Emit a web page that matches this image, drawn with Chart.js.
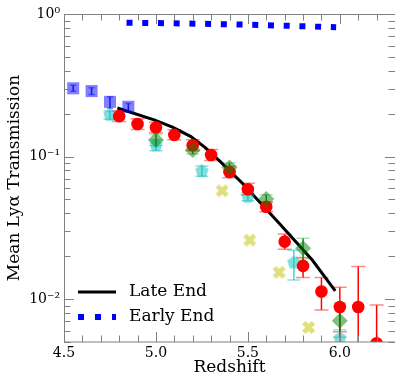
<!DOCTYPE html>
<html>
<head>
<meta charset="utf-8">
<script src="https://cdn.jsdelivr.net/npm/chart.js@4.4.1/dist/chart.umd.min.js"></script>
<style>
  html, body { margin: 0; padding: 0; background: #fff; overflow: hidden; }
  canvas { display: block; }
</style>
</head>
<body>
<canvas id="chart" width="395" height="376"></canvas>
<script>
// values (redshift, mean transmission)
const lateZ = [4.79, 4.99, 5.09, 5.19, 5.27, 5.35, 5.47, 5.67, 5.85, 5.975];
const lateT = [0.219, 0.181, 0.161, 0.138, 0.115, 0.092, 0.065, 0.034, 0.0188, 0.0114];

const earlyZ = [4.84, 5.1, 5.4, 5.7, 5.98];
const earlyT = [0.869, 0.86, 0.847, 0.828, 0.807];

const redZ = [4.8, 4.9, 5.0, 5.1, 5.2, 5.3, 5.4, 5.5, 5.6, 5.7, 5.8, 5.9, 6.0, 6.1, 6.2];
const redT = [0.192, 0.169, 0.160, 0.142, 0.120, 0.1025, 0.078, 0.059, 0.0444, 0.0253, 0.0171, 0.0113, 0.0088, 0.0088, 0.0049];
const redLo = [0.176, 0.155, 0.147, 0.131, 0.110, 0.094, 0.071, 0.054, 0.041, 0.0224, 0.0142, 0.00837, 0.0059, 0.001, 0.001];
const redHi = [0.209, 0.184, 0.174, 0.154, 0.131, 0.112, 0.086, 0.065, 0.048, 0.0286, 0.0196, 0.0142, 0.0121, 0.0169, 0.00908];

const greenZ = [5.0, 5.2, 5.4, 5.6, 5.8, 6.0];
const greenT = [0.1305, 0.111, 0.0837, 0.0503, 0.0227, 0.00705];
const greenLo = [0.119, 0.104, 0.078, 0.047, 0.0193, 0.0054];
const greenHi = [0.143, 0.119, 0.090, 0.054, 0.0267, 0.0094];

const cyanZ = [4.75, 5.0, 5.25, 5.5, 5.75, 6.0];
const cyanT = [0.1955, 0.120, 0.079, 0.0522, 0.0180, 0.0053];
const cyanLo = [0.183, 0.110, 0.0727, 0.0489, 0.0136, 0.0048];
const cyanHi = [0.209, 0.131, 0.0858, 0.0557, 0.0220, 0.0061];

const yellowZ = [5.36, 5.51, 5.67, 5.83];
const yellowT = [0.0575, 0.0259, 0.0154, 0.00633];

const blueZ = [4.55, 4.65, 4.75, 4.85];
const blueT = [0.301, 0.288, 0.242, 0.2235];
const blueLo = [0.287, 0.272, 0.218, 0.206];
const blueHi = [0.316, 0.304, 0.263, 0.236];

const xTickVals = [4.5, 5.0, 5.5, 6.0];
const xTickLabels = ['4.5', '5.0', '5.5', '6.0'];
const yTickVals = [0.01, 0.1, 1];
const yTickLabels = ['10\u207B\u00B2', '10\u207B\u00B9', '10\u2070'];

const legendLabels = ['Late End', 'Early End'];

const pts = (xs, ys) => xs.map((x, i) => ({ x: x, y: ys[i] }));

// matplotlib style markers that Chart.js lacks
function pentagon(r, color) {
  const c = document.createElement('canvas');
  c.width = c.height = 2 * r;
  const g = c.getContext('2d');
  g.fillStyle = color;
  g.beginPath();
  for (let k = 0; k < 5; k++) {
    const a = -Math.PI / 2 + k * 2 * Math.PI / 5;
    g.lineTo(r + r * Math.cos(a), r + r * Math.sin(a));
  }
  g.closePath();
  g.fill();
  return c;
}

function filledX(size, color) {
  const c = document.createElement('canvas');
  c.width = c.height = size;
  const g = c.getContext('2d');
  const h = 2.4, L = 6.8, m = size / 2;
  const p = [[h, h], [h, L], [-h, L], [-h, h], [-L, h], [-L, -h], [-h, -h], [-h, -L], [h, -L], [h, -h], [L, -h], [L, h]];
  g.fillStyle = color;
  g.beginPath();
  p.forEach(([x, y]) => {
    const rx = (x - y) * Math.SQRT1_2, ry = (x + y) * Math.SQRT1_2;
    g.lineTo(m + rx, m + ry);
  });
  g.closePath();
  g.fill();
  return c;
}

const errSets = [
  { z: blueZ, lo: blueLo, hi: blueHi, bar: 'rgba(0,0,190,0.85)', cap: 'rgba(60,60,255,0.6)', w: 3 },
  { z: cyanZ, lo: cyanLo, hi: cyanHi, bar: 'rgba(0,191,191,0.7)', cap: 'rgba(0,191,191,0.45)', w: 6.5 },
  { z: redZ, lo: redLo, hi: redHi, bar: 'rgb(255,0,0)', cap: 'rgba(255,60,60,0.6)', w: 7 },
  { z: greenZ, lo: greenLo, hi: greenHi, bar: 'rgba(0,110,0,0.85)', cap: 'rgba(0,150,0,0.3)', w: 6.5 }
];

const SERIF = "'DejaVu Serif', serif";

const framePlugin = {
  id: 'frame',
  beforeDatasetsDraw(chart) {
    const { ctx, chartArea: ca, scales: { x, y } } = chart;
    ctx.save();
    ctx.beginPath();
    ctx.rect(ca.left, ca.top, ca.right - ca.left, ca.bottom - ca.top);
    ctx.clip();
    ctx.lineWidth = 1.5;
    errSets.forEach(s => {
      s.z.forEach((z, i) => {
        const px = x.getPixelForValue(z);
        const y1 = y.getPixelForValue(s.lo[i]);
        const y2 = y.getPixelForValue(s.hi[i]);
        ctx.strokeStyle = s.bar;
        ctx.beginPath();
        ctx.moveTo(px, y1);
        ctx.lineTo(px, y2);
        ctx.stroke();
        ctx.strokeStyle = s.cap;
        ctx.beginPath();
        ctx.moveTo(px - s.w, y1); ctx.lineTo(px + s.w, y1);
        ctx.moveTo(px - s.w, y2); ctx.lineTo(px + s.w, y2);
        ctx.stroke();
      });
    });
    ctx.restore();
  },
  afterDraw(chart) {
    const { ctx, chartArea: ca, scales: { x, y } } = chart;
    ctx.save();
    ctx.strokeStyle = '#808080';
    ctx.lineWidth = 1;
    ctx.strokeRect(ca.left + 0.5, ca.top + 0.5, ca.right - ca.left, ca.bottom - ca.top - 0.5);

    // inward ticks on all four sides
    ctx.beginPath();
    for (let k = 0; k <= 18; k++) {
      const v = 4.5 + k * 0.1;
      const px = Math.round(x.getPixelForValue(v)) + 0.5;
      const len = k % 5 === 0 ? 10 : 6.5;
      ctx.moveTo(px, ca.bottom); ctx.lineTo(px, ca.bottom - len);
      ctx.moveTo(px, ca.top); ctx.lineTo(px, ca.top + len);
    }
    [0.001, 0.01, 0.1].forEach(dec => {
      for (let m = 1; m <= 9; m++) {
        const v = dec * m;
        if (v < y.min - 1e-12 || v > y.max + 1e-12) continue;
        const py = Math.round(y.getPixelForValue(v)) + 0.5;
        const len = m === 1 ? 10 : 6.5;
        ctx.moveTo(ca.left, py); ctx.lineTo(ca.left + len, py);
        ctx.moveTo(ca.right, py); ctx.lineTo(ca.right - len, py);
      }
    });
    const top = Math.round(y.getPixelForValue(1)) + 0.5;
    ctx.moveTo(ca.left, top); ctx.lineTo(ca.left + 10, top);
    ctx.moveTo(ca.right, top); ctx.lineTo(ca.right - 10, top);
    ctx.stroke();

    // legend
    ctx.font = '17px ' + SERIF;
    ctx.fillStyle = '#000';
    ctx.textBaseline = 'middle';
    ctx.strokeStyle = '#000';
    ctx.lineWidth = 3;
    ctx.beginPath();
    ctx.moveTo(78, 292); ctx.lineTo(116, 292);
    ctx.stroke();
    ctx.fillText(legendLabels[0], 129, 292);
    ctx.strokeStyle = '#0000ff';
    ctx.lineWidth = 6;
    ctx.setLineDash([6, 11]);
    ctx.beginPath();
    ctx.moveTo(78, 317); ctx.lineTo(116, 317);
    ctx.stroke();
    ctx.setLineDash([]);
    ctx.fillText(legendLabels[1], 129, 317);
    ctx.restore();
  }
};

Chart.defaults.font.family = SERIF;

new Chart(document.getElementById('chart'), {
  type: 'scatter',
  data: {
    datasets: [
      { label: 'green', data: pts(greenZ, greenT), order: 1, pointStyle: 'rectRot', pointRadius: 8,
        backgroundColor: 'rgba(0,128,0,0.5)', borderWidth: 0 },
      { label: 'red', data: pts(redZ, redT), order: 2, pointStyle: 'circle', pointRadius: 6.3,
        backgroundColor: '#ff0000', borderWidth: 0 },
      { label: 'yellow', data: pts(yellowZ, yellowT), order: 3, pointStyle: filledX(15, 'rgba(191,191,0,0.5)'), pointRadius: 7 },
      { label: 'cyan', data: pts(cyanZ, cyanT), order: 4, pointStyle: pentagon(7, 'rgba(0,191,191,0.5)'), pointRadius: 7 },
      { label: 'blue', data: pts(blueZ, blueT), order: 5, pointStyle: 'rect', pointRadius: 8.5,
        backgroundColor: 'rgba(0,0,255,0.5)', borderWidth: 0 },
      { label: legendLabels[0], data: pts(lateZ, lateT), order: 6, showLine: true, pointRadius: 0,
        borderColor: '#000', borderWidth: 3, tension: 0 },
      { label: legendLabels[1], data: pts(earlyZ, earlyT), order: 7, showLine: true, pointRadius: 0,
        borderColor: '#0000ff', borderWidth: 6, borderDash: [6, 9.72], borderCapStyle: 'butt', tension: 0 }
    ]
  },
  options: {
    responsive: false,
    animation: false,
    devicePixelRatio: 1,
    layout: { autoPadding: false, padding: { top: 14, right: 0, left: 0, bottom: 0 } },
    plugins: { legend: { display: false }, tooltip: { enabled: false } },
    scales: {
      x: {
        type: 'linear', min: 4.5, max: 6.3,
        grid: { display: false, drawTicks: false },
        border: { display: false },
        afterBuildTicks: s => { s.ticks = xTickVals.map(v => ({ value: v })); },
        ticks: { autoSkip: false, maxRotation: 0, padding: 3, color: '#000', font: { size: 14 },
          callback: (v, i) => xTickLabels[i] },
        title: { display: true, text: 'Redshift', color: '#000', font: { size: 17, lineHeight: 0.8 },
          padding: { top: 0, bottom: 2 } },
        afterFit: s => { s.height = 34; }
      },
      y: {
        type: 'logarithmic', min: 0.005, max: 1,
        grid: { display: false, drawTicks: false },
        border: { display: false },
        afterBuildTicks: s => { s.ticks = yTickVals.map(v => ({ value: v })); },
        ticks: { autoSkip: false, padding: 4, color: '#000', font: { size: 14 },
          callback: (v, i) => yTickLabels[i] },
        title: { display: true, text: 'Mean Ly\u03B1 Transmission', color: '#000', font: { size: 17, lineHeight: 0.8 },
          padding: { top: 8, bottom: 0 } },
        afterFit: s => { s.width = 64; }
      }
    }
  },
  plugins: [framePlugin]
});
</script>
</body>
</html>
